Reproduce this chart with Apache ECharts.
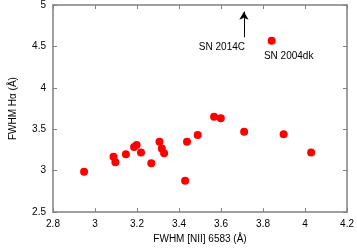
<!DOCTYPE html>
<html><head><meta charset="utf-8">
<script src="https://cdn.jsdelivr.net/npm/echarts@6/dist/echarts.min.js"></script>
<style>html,body{margin:0;padding:0;background:#fff}#c{width:357px;height:249px}</style>
</head><body><div id="c"></div>
<script>
const fwhmNII = [2.948,3.088,3.097,3.147,3.186,3.198,3.219,3.268,3.307,3.318,3.329,3.429,3.438,3.489,3.567,3.599,3.710,3.898,4.029,3.841];
const fwhmHa  = [2.987,3.169,3.101,3.199,3.287,3.310,3.219,3.090,3.349,3.267,3.211,2.877,3.349,3.432,3.652,3.632,3.471,3.440,3.219,4.567];
const xTicks = [2.8,3,3.2,3.4,3.6,3.8,4,4.2];
const yTicks = [2.5,3,3.5,4,4.5,5];
const labelDk = 'SN 2004dk';
const labelC = 'SN 2014C';
const arrowC = [[3.709,4.61],[3.709,4.92]];

const font = 'Liberation Sans';
const axisCol = '#808080';
const pts = fwhmNII.map((x,i)=>[x,fwhmHa[i]]);
const chart = echarts.init(document.getElementById('c'));
const fmt = v => String(v);
const baseAxis = {
  axisLine:{show:true,onZero:false,lineStyle:{color:axisCol,width:1.5}},
  axisTick:{show:true,inside:true,length:4,lineStyle:{color:axisCol}},
  splitLine:{show:false}
};
chart.setOption({
  animation:false,
  textStyle:{fontFamily:font},
  grid:{left:49,right:8,top:5,bottom:32},
  xAxis:[
    Object.assign({type:'value',min:2.8,max:4.2,interval:0.2,position:'bottom',
      name:'FWHM [NII] 6583 (Å)',nameLocation:'middle',nameGap:21,
      nameTextStyle:{fontFamily:font,fontSize:10,color:'#000'},
      axisLabel:{fontFamily:font,fontSize:10,color:'#000',margin:7,formatter:v=>fmt(+v.toFixed(1))}},baseAxis),
    Object.assign({type:'value',min:2.8,max:4.2,interval:0.2,position:'top',axisLabel:{show:false}},baseAxis)
  ],
  yAxis:[
    Object.assign({type:'value',min:2.5,max:5,interval:0.5,position:'left',
      name:'FWHM Hα (Å)',nameLocation:'middle',nameGap:35,
      nameTextStyle:{fontFamily:font,fontSize:10,color:'#000'},
      axisLabel:{fontFamily:font,fontSize:10,color:'#000',margin:7,formatter:v=>fmt(+v.toFixed(1))}},baseAxis),
    Object.assign({type:'value',min:2.5,max:5,interval:0.5,position:'right',axisLabel:{show:false}},baseAxis)
  ],
  series:[
    {type:'scatter',data:pts,symbolSize:8,itemStyle:{color:'#ff0000',opacity:1},
     emphasis:{disabled:true},
     label:{show:true,formatter:p=>p.dataIndex===pts.length-1?labelDk:'',position:'bottom',distance:6,
       offset:[17,0],fontFamily:font,fontSize:10,color:'#000',opacity:1},
     markLine:{silent:true,animation:false,symbol:['none','arrow'],symbolSize:[7,8],
       lineStyle:{color:'#000',width:1,type:'solid',opacity:1},
       label:{show:true,position:'start',formatter:labelC,fontFamily:font,fontSize:10,color:'#000',distance:5,offset:[-22,0]},
       data:[[{coord:arrowC[0]},{coord:arrowC[1]}]]}
    }
  ]
});
</script></body></html>
